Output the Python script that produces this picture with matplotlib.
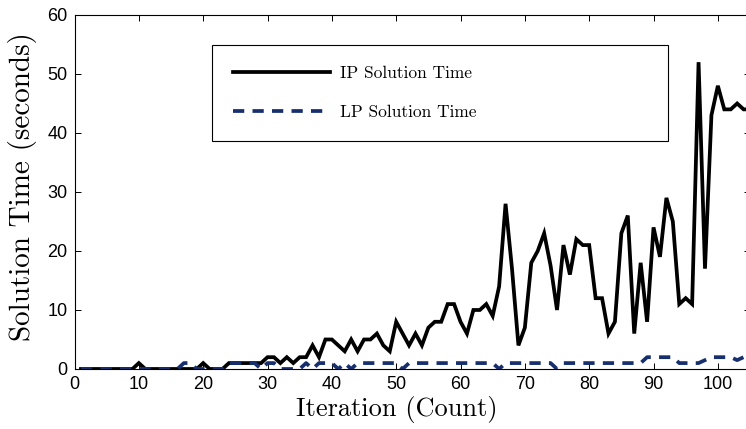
import numpy as np
import matplotlib
matplotlib.use("Agg")
import matplotlib.pyplot as plt

# ----------------------------
# Data
# ----------------------------
iterations = list(range(1, 106))

ip_time = [
    0, 0, 0, 0, 0, 0, 0, 0, 0, 1,          # 1-10
    0, 0, 0, 0, 0, 0, 0, 0, 0, 1,          # 11-20
    0, 0, 0, 1, 1, 1, 1, 1, 1, 2,          # 21-30
    2, 1, 2, 1, 2, 2, 4, 2, 5, 5,          # 31-40
    4, 3, 5, 3, 5, 5, 6, 4, 3, 8,          # 41-50
    6, 4, 6, 4, 7, 8, 8, 11, 11, 8,        # 51-60
    6, 10, 10, 11, 9, 14, 28, 17, 4, 7,    # 61-70
    18, 20, 23, 17.5, 10, 21, 16, 22, 21, 21,  # 71-80
    12, 12, 6, 8, 23, 26, 6, 18, 8, 24,    # 81-90
    19, 29, 25, 11, 12, 11, 52, 17, 43, 48,    # 91-100
    44, 44, 45, 44, 44,                    # 101-105
]

lp_time = [
    0, 0, 0, 0, 0, 0, 0, 0, 0, 0,          # 1-10
    0, 0, 0, 0, 0, 0, 1, 1, 0, 0,          # 11-20
    0, 0, 0, 1, 1, 1, 1, 1, 0, 1,          # 21-30
    1, 0, 0, 0, 0, 1, 0, 1, 1, 1,          # 31-40
    0, 1, 0, 1, 1, 1, 1, 1, 1, 1,          # 41-50
    0, 1, 1, 1, 1, 1, 1, 1, 1, 1,          # 51-60
    1, 1, 1, 1, 1, 0, 1, 1, 1, 1,          # 61-70
    1, 1, 1, 1, 0, 1, 1, 1, 1, 1,          # 71-80
    1, 1, 1, 1, 1, 1, 1, 1, 2, 2,          # 81-90
    2, 2, 2, 1, 1, 1, 1, 1.5, 2, 2,        # 91-100
    2, 2, 1.5, 2, 2,                       # 101-105
]

x_ticks = list(range(0, 101, 10))
y_ticks = list(range(0, 61, 10))

# ----------------------------
# Plot
# ----------------------------
plt.rcParams["font.family"] = "Liberation Sans"

fig = plt.figure(figsize=(7.46, 4.29), dpi=100)
ax = fig.add_axes([0.0999, 0.1399, 0.9055, 0.8252])

ax.plot(iterations, ip_time, color="black", linewidth=2.7,
        label="IP Solution Time", solid_joinstyle="miter")
ax.plot(iterations, lp_time, color="#17306d", linewidth=2.7,
        dashes=(3, 2.2), label="LP Solution Time")

ax.set_xlim(0, 105)
ax.set_ylim(0, 60)
ax.set_xticks(x_ticks)
ax.set_yticks(y_ticks)

ax.tick_params(direction="in", length=4, width=0.7, labelsize=13,
               top=True, right=True, pad=5)
for sp in ax.spines.values():
    sp.set_linewidth(0.8)

ax.set_xlabel("Iteration (Count)", fontfamily="cmr10", fontsize=19)
ax.set_ylabel("Solution Time (seconds)", fontfamily="cmr10", fontsize=21)
ax.xaxis.set_label_coords(0.477, -0.075)
ax.yaxis.set_label_coords(-0.056, 0.514)

leg = ax.legend(loc="upper left", bbox_to_anchor=(0.2036, 0.915, 0.675, 0.0),
                mode="expand", prop={"family": "cmr10", "size": 12.5},
                handlelength=5.6, handletextpad=0.55, borderpad=1.2,
                labelspacing=1.35, fancybox=False, framealpha=1,
                edgecolor="black", borderaxespad=0)
leg.get_frame().set_linewidth(0.8)

fig.savefig("out.png", dpi=100)
